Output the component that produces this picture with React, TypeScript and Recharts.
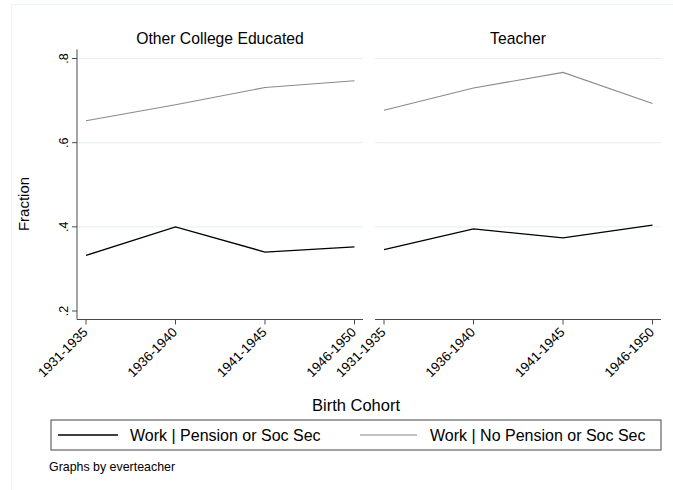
import React from 'react'
import { LineChart, Line, XAxis, YAxis, ReferenceLine } from 'recharts'

const cohorts = ['1931-1935', '1936-1940', '1941-1945', '1946-1950']
const otherPension = [0.332, 0.4, 0.34, 0.3525]
const otherNoPension = [0.652, 0.69, 0.731, 0.747]
const teacherPension = [0.346, 0.395, 0.374, 0.404]
const teacherNoPension = [0.677, 0.73, 0.767, 0.693]
const yTicks = [0.2, 0.4, 0.6, 0.8]
const gridTicks = [0.4, 0.6, 0.8]
const panelTitles = ['Other College Educated', 'Teacher']
const seriesNames = ['Work | Pension or Soc Sec', 'Work | No Pension or Soc Sec']

const FONT = 'Arial, "Liberation Sans", Helvetica, sans-serif'
const BLACK = '#000000'
const GREY = '#8a8a8a'
const AXIS = '#4a4a4a'
const GRID = '#e6eff0'

const toRows = (a: number[], b: number[]) =>
  cohorts.map((c, i) => ({ cohort: c, pension: a[i], noPension: b[i] }))

const XTick = (props: any) => {
  const { x, y, payload } = props
  return (
    <g transform={`translate(${x - 1},${y + 3})`}>
      <text
        textAnchor="end"
        transform="rotate(-45)"
        fontSize={13.3}
        fontFamily={FONT}
        fill="#000"
        dy={5}
      >
        {payload.value}
      </text>
    </g>
  )
}

const YTick = (props: any) => {
  const { x, y, payload } = props
  const label = String(payload.value).replace(/^0/, '')
  return (
    <g transform={`translate(${x - 2},${y})`}>
      <text
        textAnchor="middle"
        transform="rotate(-90)"
        fontSize={12.5}
        fontFamily={FONT}
        fill="#000"
      >
        {label}
      </text>
    </g>
  )
}

// left panel: plot spans x 77..363, right panel: 375..661
function Panel({ rows, title, left, showY }: { rows: any[]; title: string; left: number; showY: boolean }) {
  const marginLeft = showY ? 47 : 75
  const plotLeft = showY ? 77 : 75
  return (
    <div style={{ position: 'absolute', left, top: 0 }}>
      <LineChart
        width={plotLeft + 286}
        height={400}
        data={rows}
        margin={{ top: 49.5, right: 0, bottom: 0, left: marginLeft }}
      >
        <XAxis
          dataKey="cohort"
          interval={0}
          padding={{ left: 9, right: 8.5 }}
          height={80.5}
          tick={<XTick />}
          tickSize={5}
          axisLine={{ stroke: AXIS }}
          tickLine={{ stroke: AXIS }}
        />
        <YAxis
          hide={!showY}
          domain={[0.1798, 0.8214]}
          ticks={yTicks}
          width={30}
          tick={<YTick />}
          tickSize={5}
          axisLine={{ stroke: AXIS }}
          tickLine={{ stroke: AXIS }}
          allowDataOverflow
        />
        {gridTicks.map((g) => (
          <ReferenceLine key={g} y={g} stroke={GRID} strokeWidth={1} />
        ))}
        <Line
          dataKey="noPension"
          stroke={GREY}
          strokeWidth={1.1}
          dot={false}
          isAnimationActive={false}
        />
        <Line
          dataKey="pension"
          stroke={BLACK}
          strokeWidth={1.3}
          dot={false}
          isAnimationActive={false}
        />
        <text
          x={plotLeft + 143}
          y={44}
          textAnchor="middle"
          fontSize={15.7}
          fontFamily={FONT}
          fill="#000"
        >
          {title}
        </text>
      </LineChart>
    </div>
  )
}

export default function App() {
  return (
    <div
      style={{
        position: 'absolute',
        left: 0,
        top: 0,
        width: 673,
        height: 490,
        background: '#fff',
        overflow: 'hidden',
        fontFamily: FONT,
      }}
    >
      <div
        style={{
          position: 'absolute',
          left: 11,
          top: 4,
          width: 700,
          height: 500,
          border: '1px solid #eef4f4',
        }}
      />
      <Panel rows={toRows(otherPension, otherNoPension)} title={panelTitles[0]} left={0} showY />
      <Panel rows={toRows(teacherPension, teacherNoPension)} title={panelTitles[1]} left={300} showY={false} />
      <svg
        width={673}
        height={490}
        style={{ position: 'absolute', left: 0, top: 0, pointerEvents: 'none' }}
      >
        <text
          transform="translate(29,204) rotate(-90)"
          textAnchor="middle"
          fontSize={15}
          fontFamily={FONT}
          fill="#000"
        >
          Fraction
        </text>
        <text x={356} y={410.5} textAnchor="middle" fontSize={16.5} fontFamily={FONT} fill="#000">
          Birth Cohort
        </text>
        <rect x={51} y={420} width={610} height={30} fill="#fff" stroke="#444" strokeWidth={1} />
        <line x1={58} y1={435} x2={118} y2={435} stroke={BLACK} strokeWidth={1.3} />
        <text x={130} y={441} fontSize={16} fontFamily={FONT} fill="#000">
          {seriesNames[0]}
        </text>
        <line x1={360} y1={435} x2={417} y2={435} stroke={GREY} strokeWidth={1.1} />
        <text x={430} y={441} fontSize={16} fontFamily={FONT} fill="#000">
          {seriesNames[1]}
        </text>
        <text x={49} y={471} fontSize={12.4} fontFamily={FONT} fill="#000">
          Graphs by everteacher
        </text>
      </svg>
    </div>
  )
}
